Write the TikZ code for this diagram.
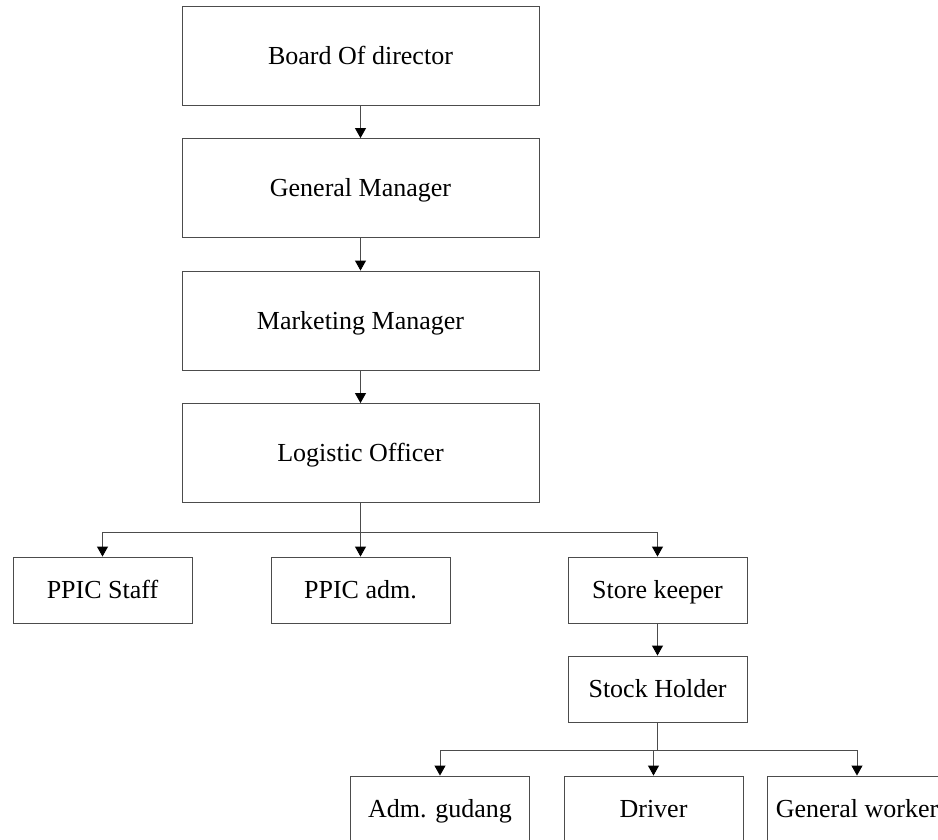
\documentclass[tikz,border=0pt]{standalone}
\usepackage{fontspec}
\setmainfont{Liberation Serif}
\usetikzlibrary{arrows.meta}
\begin{document}
\begin{tikzpicture}[x=1pt,y=-1pt,
  box/.style={draw=black!70, line width=0.9pt, fill=white, inner sep=0pt,
    font=\fontsize{26}{30}\selectfont, text height=17.2pt, text depth=0pt,
    align=center},
  bigbox/.style={box, minimum width=357pt, minimum height=99pt},
  smallbox/.style={box, minimum width=179pt, minimum height=66pt},
  link/.style={draw=black!70, line width=0.9pt},
  arr/.style={link, -{Triangle[width=11pt,length=10pt,color=black]}}
]
\clip (0,0) rectangle (938,839);

% management chain
\node[bigbox] (bod) at (360.5,55.5)  {Board Of director};
\node[bigbox] (gm)  at (360.5,188)   {General Manager};
\node[bigbox] (mm)  at (360.5,320.5) {Marketing Manager};
\node[bigbox] (lo)  at (360.5,453)   {Logistic Officer};

% staff under the logistic officer
\node[smallbox] (ps) at (102.5,590) {PPIC Staff};
\node[smallbox] (pa) at (360.5,590) {PPIC adm.};
\node[smallbox] (sk) at (657.5,590) {Store keeper};
\node[smallbox] (sh) at (657.5,689) {Stock Holder};

% warehouse workers
\node[smallbox] (ag) at (440,809)   {Adm. gudang};
\node[smallbox] (dr) at (653.5,809) {Driver};
\node[smallbox] (gw) at (857,809)   {General worker};

\draw[arr] (bod) -- (gm);
\draw[arr] (gm) -- (mm);
\draw[arr] (mm) -- (lo);

\coordinate (bus1) at (360.5,532);
\draw[link] (lo.south) -- (bus1);
\draw[arr] (bus1) -| (ps.north);
\draw[arr] (bus1) -- (pa.north);
\draw[arr] (bus1) -| (sk.north);

\draw[arr] (sk) -- (sh);

\coordinate (bus2) at (657.5,750);
\draw[link] (sh.south) -- (bus2);
\draw[arr] (bus2) -| (ag.north);
\draw[arr] (bus2) -| (dr.north);
\draw[arr] (bus2) -| (gw.north);
\end{tikzpicture}
\end{document}
